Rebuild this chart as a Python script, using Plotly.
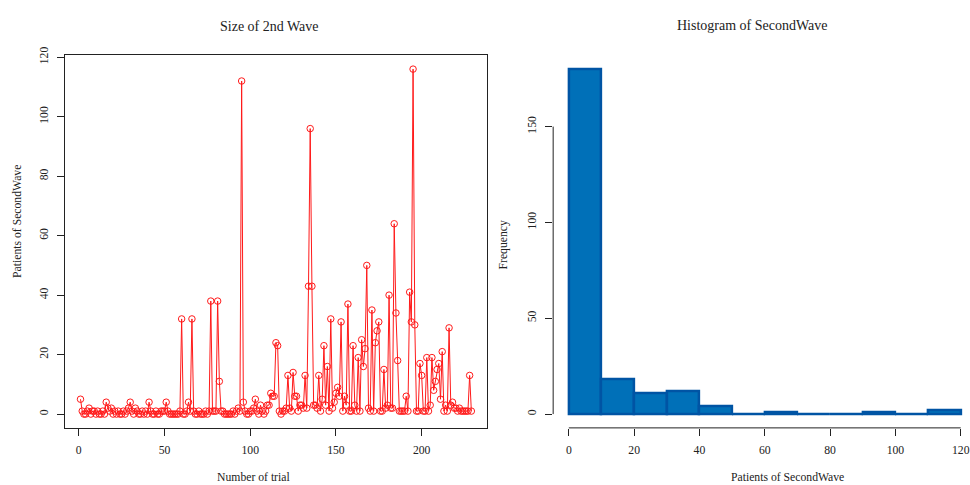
import numpy as np
import plotly.graph_objects as go

# ---- data: patients of second wave per trial ----
second_wave = [
    5, 1, 0, 0, 1, 2, 0, 1, 1, 0,
    1, 0, 0, 1, 0, 4, 2, 1, 2, 0,
    1, 0, 1, 0, 0, 1, 0, 1, 2, 4,
    1, 0, 2, 1, 0, 0, 1, 0, 1, 0,
    4, 1, 0, 0, 1, 0, 0, 1, 1, 1,
    4, 1, 0, 0, 0, 0, 0, 0, 1, 32,
    0, 0, 1, 4, 1, 32, 1, 0, 0, 1,
    0, 0, 0, 1, 0, 1, 38, 1, 1, 1,
    38, 11, 1, 1, 0, 0, 0, 0, 0, 1,
    0, 1, 2, 1, 112, 4, 1, 0, 0, 1,
    1, 2, 5, 1, 0, 3, 1, 0, 1, 3,
    3, 7, 6, 6, 24, 23, 1, 0, 1, 1,
    2, 13, 2, 1, 14, 6, 6, 1, 3, 3,
    2, 13, 2, 43, 96, 43, 3, 3, 2, 13,
    1, 5, 23, 3, 16, 1, 32, 2, 4, 7,
    9, 6, 31, 1, 6, 3, 37, 1, 1, 23,
    3, 1, 19, 1, 25, 16, 22, 50, 2, 1,
    35, 1, 24, 28, 31, 1, 1, 15, 2, 3,
    40, 2, 2, 64, 34, 18, 1, 1, 1, 1,
    6, 1, 41, 31, 116, 30, 1, 1, 17, 13,
    1, 1, 19, 1, 3, 19, 8, 11, 15, 17,
    5, 21, 1, 3, 1, 29, 3, 4, 2, 2,
    1, 2, 1, 1, 1, 1, 1, 13, 1,
]
trials = list(range(1, len(second_wave) + 1))

hist_breaks = [0, 10, 20, 30, 40, 50, 60, 70, 80, 90, 100, 110, 120]
left_xticks = [0, 50, 100, 150, 200]
left_yticks = [0, 20, 40, 60, 80, 100, 120]
right_xticks = [0, 20, 40, 60, 80, 100, 120]
right_yticks = [0, 50, 100, 150]

# R-style right-closed histogram counts (include.lowest)
vals = np.array(second_wave)
counts = []
for i in range(len(hist_breaks) - 1):
    lo, hi = hist_breaks[i], hist_breaks[i + 1]
    if i == 0:
        c = np.sum((vals >= lo) & (vals <= hi))
    else:
        c = np.sum((vals > lo) & (vals <= hi))
    counts.append(int(c))
mids = [(hist_breaks[i] + hist_breaks[i + 1]) / 2 for i in range(len(hist_breaks) - 1)]

W, H = 970, 485
def px(x):
    return x / W
def py(y):
    return 1 - y / H

FONT = "Liberation Serif, Times New Roman, serif"
TXT = "#222222"

fig = go.Figure()
fig.add_trace(go.Scatter(
    x=trials, y=second_wave, mode="lines+markers",
    line=dict(color="#FF1A1A", width=1),
    marker=dict(symbol="circle-open", size=6.5, color="#FF1A1A", line=dict(width=1, color="#FF1A1A")),
    xaxis="x", yaxis="y", showlegend=False, hoverinfo="x+y",
))
fig.add_trace(go.Bar(
    x=mids, y=counts, width=10,
    marker=dict(color="#0070B8", line=dict(color="#0054A4", width=2.5)),
    xaxis="x2", yaxis="y2", showlegend=False,
))

ydom = [py(426.8), py(47.2)]
axis_common = dict(
    showgrid=False, zeroline=False, ticks="outside", ticklen=7, tickwidth=1,
    tickcolor="#222222", tickfont=dict(family=FONT, size=11.7, color=TXT),
    ticklabelstandoff=4, ticklabeloverflow="allow",
)
fig.update_layout(
    width=W, height=H,
    margin=dict(l=0, r=0, t=0, b=0),
    paper_bgcolor="white", plot_bgcolor="white",
    bargap=0,
    xaxis=dict(domain=[px(65), px(488)], range=[-8.12, 238.12], tickvals=left_xticks,
               showline=True, mirror=True, linecolor="#222222", linewidth=1,
               anchor="y", **axis_common),
    yaxis=dict(domain=ydom, range=[-4.64, 120.64], tickvals=left_yticks, tickangle=-90,
               showline=True, mirror=True, linecolor="#222222", linewidth=1,
               anchor="x", **axis_common),
    xaxis2=dict(domain=[px(554.3), 1.0], range=[-4.8, 122.23], tickvals=right_xticks,
                showline=False, anchor="y2", **axis_common),
    yaxis2=dict(domain=ydom, range=[-7.2, 187.2], tickvals=right_yticks, tickangle=-90,
                showline=False, anchor="x2", **axis_common),
)

# R-style axis lines spanning first to last tick for the histogram
fig.add_shape(type="line", xref="x2", yref="y2 domain", x0=0, x1=120, y0=0, y1=0,
              line=dict(color="#222222", width=1))
fig.add_shape(type="line", xref="x2 domain", yref="y2", x0=0, x1=0, y0=0, y1=150,
              line=dict(color="#222222", width=1))

def ann(text, x, y, size, angle=0):
    fig.add_annotation(text=text, x=px(x), y=py(y), xref="paper", yref="paper",
                       showarrow=False, textangle=angle, xanchor="center", yanchor="middle",
                       font=dict(family=FONT, size=size, color=TXT))

ann("Size of 2nd Wave", 270, 18, 14)
ann("Histogram of SecondWave", 754, 17, 14)
ann("Number of trial", 254, 477, 11.7)
ann("Patients of SecondWave", 789, 477, 11.7)
ann("Patients of SecondWave", 18, 216, 11.7, -90)
ann("Frequency", 505, 240, 11.7, -90)

fig.write_html("out.html")
